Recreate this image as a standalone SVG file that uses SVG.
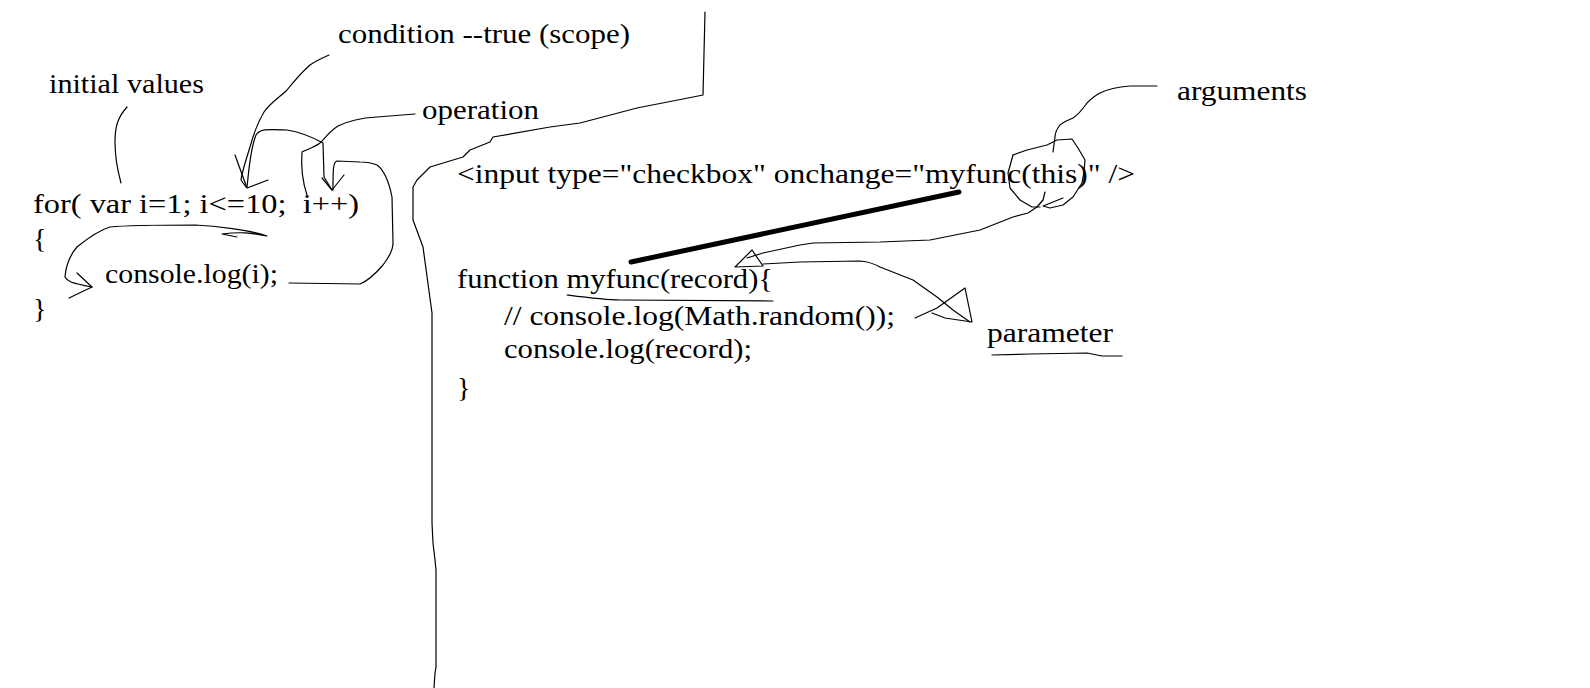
<svg xmlns="http://www.w3.org/2000/svg" width="1590" height="688" viewBox="0 0 1590 688">
<style>
text{font-family:"Liberation Serif","Times New Roman",serif;font-size:28px;fill:#000}
.s{fill:none;stroke:#000;stroke-width:1.2;stroke-linejoin:round;stroke-linecap:round}
</style>
<rect width="1590" height="688" fill="#fff"/>
<g id="texts">
<text x="338" y="43" textLength="292" lengthAdjust="spacingAndGlyphs">condition --true (scope)</text>
<text x="49" y="93" textLength="155" lengthAdjust="spacingAndGlyphs">initial values</text>
<text x="422" y="119" textLength="117" lengthAdjust="spacingAndGlyphs">operation</text>
<text x="1177" y="100" textLength="130" lengthAdjust="spacingAndGlyphs">arguments</text>
<text x="33" y="213" textLength="326" lengthAdjust="spacingAndGlyphs" xml:space="preserve">for( var i=1; i&lt;=10;  i++)</text>
<text x="33" y="248">{</text>
<text x="105" y="283" textLength="173" lengthAdjust="spacingAndGlyphs">console.log(i);</text>
<text x="33" y="318">}</text>
<text x="457" y="183" textLength="678" lengthAdjust="spacingAndGlyphs">&lt;input type="checkbox" onchange="myfunc(this)" /&gt;</text>
<text x="457" y="288" textLength="316" lengthAdjust="spacingAndGlyphs">function myfunc(record){</text>
<text x="504" y="325" textLength="391" lengthAdjust="spacingAndGlyphs">// console.log(Math.random());</text>
<text x="504" y="358" textLength="248" lengthAdjust="spacingAndGlyphs">console.log(record);</text>
<text x="457" y="397">}</text>
<text x="987" y="342" textLength="126" lengthAdjust="spacingAndGlyphs">parameter</text>
</g>
<g id="connectors">
<!-- initial values leader -->
<path class="s" d="M127,107 C118,117 115,126 115,142 C115,160 118,172 121,183"/>
<!-- condition leader with arrow -->
<path class="s" d="M329,55 C320,59 314,62 310,65 C302,72 295,80 287,90 C280,97 270,103 264,112 C258,122 254,132 250,147 C246,160 242,172 241,180 L246,187"/>
<path class="s" d="M235,155 L247,188 L268,180"/>
<path class="s" d="M247,187 C249,170 250,150 256,135 C260,129 265,129 287,130 C300,132 312,137 323,143 L324,177 L332,190"/>
<!-- operation leader -->
<path class="s" d="M415,114 L377,117 C360,118 348,121 338,126 C330,131 325,138 320,143 C315,147 308,149 302,152 C301,165 302,180 307,195"/>
<path class="s" d="M322,178 L332,190 L344,175"/>
<!-- loop back from i++ to console.log -->
<path class="s" d="M289,283 L360,284 C370,280 377,272 383,265 C390,256 393,250 393,243 L392,197 C389,182 384,170 377,165 C370,162 365,162 360,162 L337,161 C333,162 333,170 333,190"/>
<!-- loop from for() to console.log -->
<path class="s" d="M267,236 C255,234 245,231 222,234 L237,237 M267,236 C250,230 215,226 195,225 C160,225 130,225 110,227 C100,230 88,238 77,247 C70,255 66,265 65,277 C67,281 70,283 92,287"/>
<path class="s" d="M77,273 L92,287 L69,298"/>
<!-- divider -->
<path class="s" d="M705,12 L703,95 L693,97 L637,108 L580,123 L550,127 L493,137 L490,142 L470,150 L463,157 L430,167 L417,180 L413,187 L413,220 L423,247 L432,313 L432,523 L433,543 L435,560 L436,570 L436,667 L435,673 L434,688"/>
<!-- thick line -->
<path d="M631,262 L959,192" stroke="#000" stroke-width="5" stroke-linecap="round" fill="none"/>
<!-- arguments leader -->
<path class="s" d="M1157,86 L1130,86 C1118,87 1108,89 1100,93 C1094,96 1090,100 1087,103 C1082,110 1078,115 1073,118 C1066,121 1062,123 1060,125 C1056,130 1055,134 1055,137 L1053,152"/>
<!-- circle around (this) -->
<path class="s" d="M1013,155 L1027,150 L1047,145 L1057,140 L1072,139 L1078,148 L1085,160 L1084,172 L1082,183 L1073,197 L1063,205 L1050,208 L1043,206 L1063,198"/>
<path class="s" d="M1013,155 L1008,173 L1010,188 L1020,200 L1032,207 L1040,207"/>
<!-- argument arrow to record -->
<path class="s" d="M1045,192 L1043,200 L1037,207 L1028,213 L1013,217 L980,230 L930,240 L880,242 L813,243 L800,245 L763,253 L747,258"/>
<path class="s" d="M735,267 L752,250 L763,266 Z"/>
<!-- parameter arrow from record -->
<path class="s" d="M763,264 L800,262 L860,261 C870,262 875,264 880,267 L913,280 L937,297 L953,310 L970,322"/>
<path class="s" d="M915,318 L937,308 L965,288 L972,322 L945,318 L932,313"/>
<!-- underlines -->
<path class="s" d="M567,295 C590,298 605,300 620,300 L773,301"/>
<path class="s" d="M992,355 L1030,354 L1087,353 L1102,356 L1122,356"/>
</g>
</svg>
